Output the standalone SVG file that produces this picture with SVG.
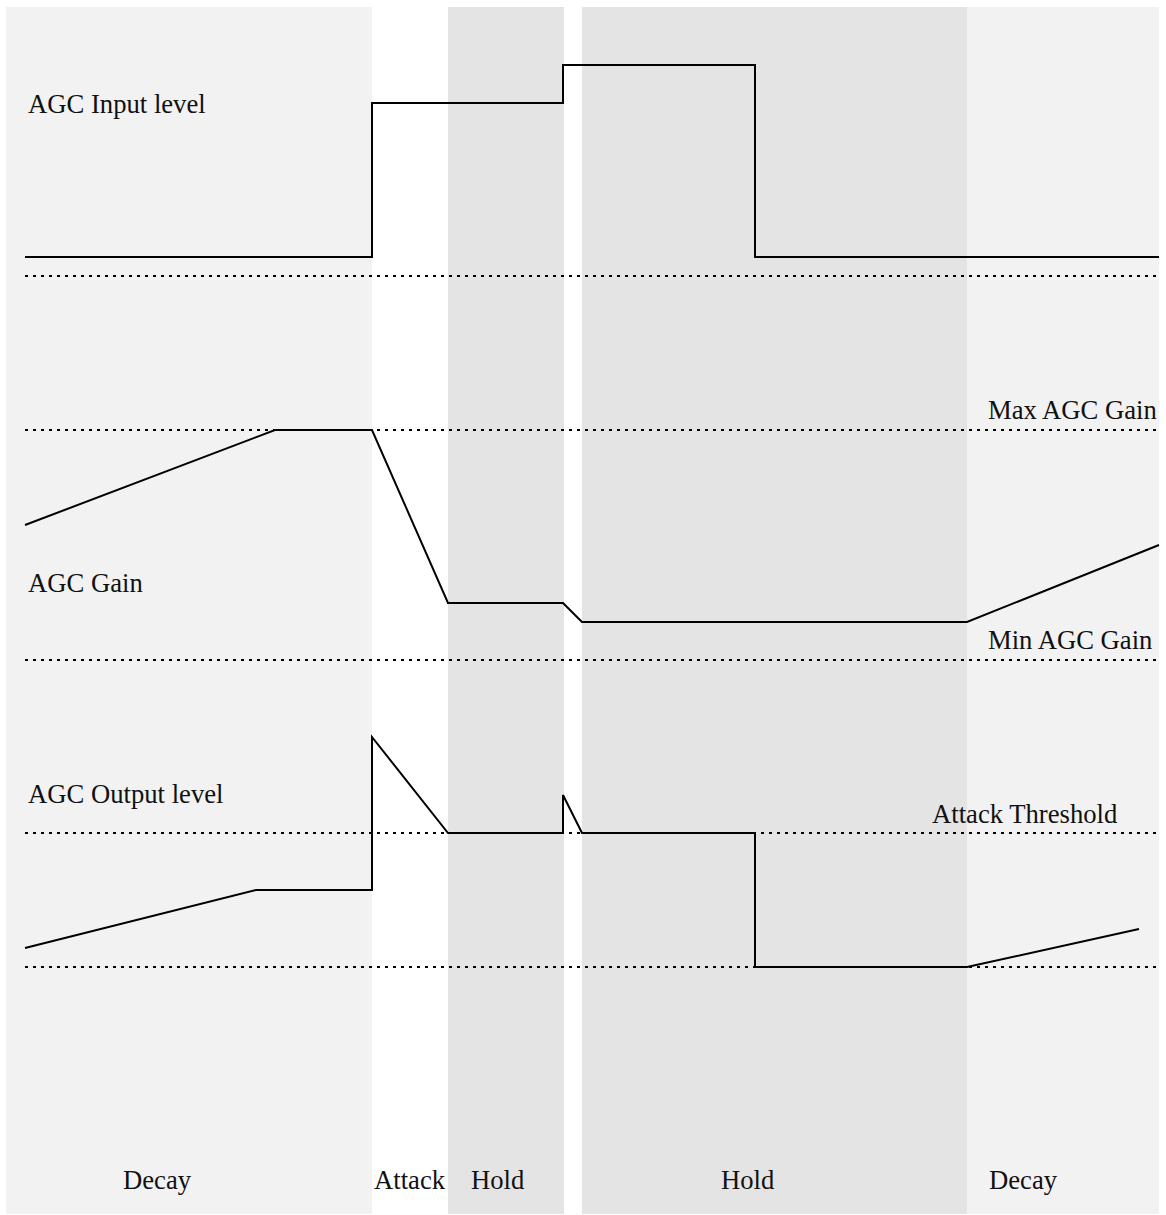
<svg xmlns="http://www.w3.org/2000/svg" width="1166" height="1215" viewBox="0 0 1166 1215">
  <style>
    .light { fill: #f2f2f2; }
    .dark { fill: #e4e4e4; }
    .trace { fill: none; stroke: #000; stroke-width: 2; stroke-linejoin: miter; }
    .ref { fill: none; stroke: #000; stroke-width: 2; stroke-dasharray: 3 5; }
    text { font-family: "Liberation Serif", "Times New Roman", serif; font-size: 26.67px; fill: #111; }
  </style>
  <rect width="1166" height="1215" fill="#fff"/>

  <!-- phase bands -->
  <g id="bands">
    <rect id="band-decay-1" class="light" x="6" y="7" width="366" height="1207"/>
    <rect id="band-hold-1" class="dark" x="448" y="7" width="116" height="1207"/>
    <rect id="band-hold-2" class="dark" x="582" y="7" width="385" height="1207"/>
    <rect id="band-decay-2" class="light" x="967" y="7" width="192" height="1207"/>
  </g>

  <!-- reference levels -->
  <g id="reference-lines">
    <line class="ref" x1="25" y1="276" x2="1159" y2="276"/>
    <line class="ref" x1="25" y1="430" x2="1159" y2="430"/>
    <line class="ref" x1="25" y1="660" x2="1159" y2="660"/>
    <line class="ref" x1="25" y1="833" x2="1159" y2="833"/>
    <line class="ref" x1="25" y1="967" x2="1159" y2="967"/>
  </g>

  <!-- signal traces -->
  <g id="connectors">
    <polyline id="input-level" class="trace" points="25,257 372,257 372,103 563,103 563,65 755,65 755,257 1159,257"/>
    <polyline id="agc-gain" class="trace" points="25,525 275,430 372,430 448,603 563,603 582,622 967,622 1159,545"/>
    <polyline id="output-level" class="trace" points="25,948 256,890 372,890 372,737 448,833 563,833 563,795 582,833 755,833 755,967 967,967 1139,929"/>
  </g>

  <!-- trace labels -->
  <g id="trace-labels">
    <text x="28" y="113">AGC Input level</text>
    <text x="28" y="592">AGC Gain</text>
    <text x="28" y="803">AGC Output level</text>
    <text x="988" y="419">Max AGC Gain</text>
    <text x="988" y="649">Min AGC Gain</text>
    <text x="932" y="823">Attack Threshold</text>
  </g>

  <!-- phase labels -->
  <g id="phase-labels">
    <text x="123" y="1189">Decay</text>
    <text x="374" y="1189">Attack</text>
    <text x="471" y="1189">Hold</text>
    <text x="721" y="1189">Hold</text>
    <text x="989" y="1189">Decay</text>
  </g>
</svg>
